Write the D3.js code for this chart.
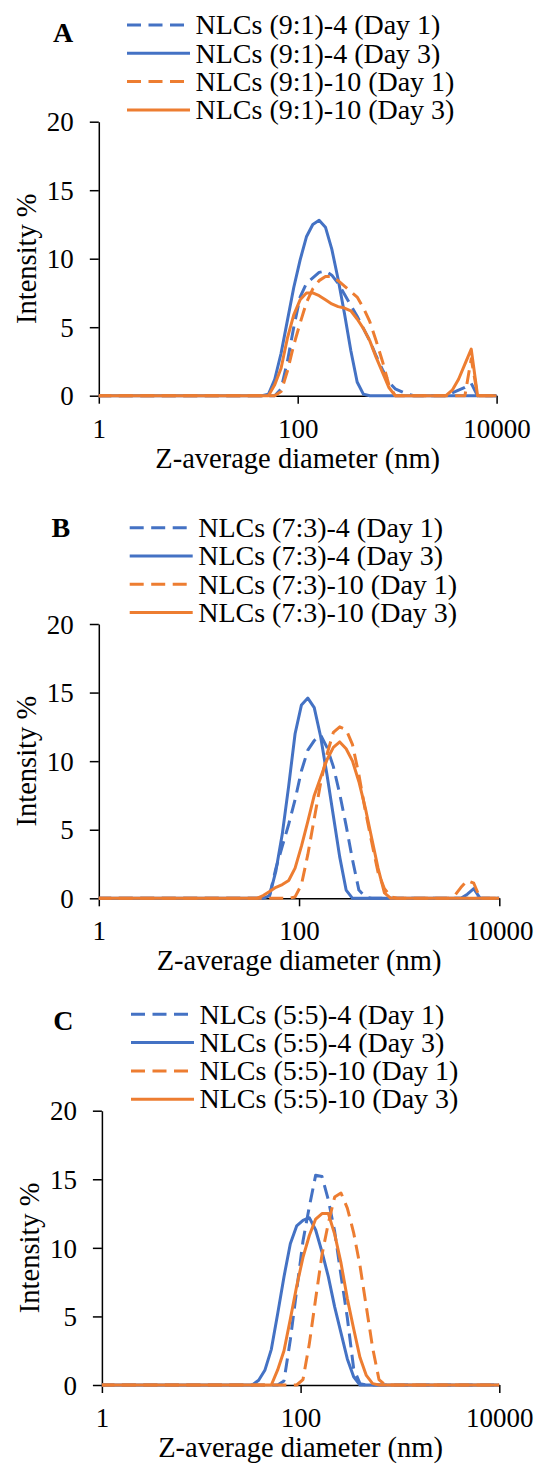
<!DOCTYPE html>
<html>
<head>
<meta charset="utf-8">
<script src="https://cdn.jsdelivr.net/npm/d3@7"></script>
<style>
    body { margin: 0; background: #fff; }
    svg text { font-family: "Liberation Serif", Tinos, "Times New Roman", serif; fill: #000; }
</style>
</head>
<body>
<div id="chart"></div>
<script>
/*
 * DLS size distributions of NLCs, panels A-C
 */

// Size bins (nm), Zetasizer standard classes from ~1 nm up to 10000 nm
const sizeBins = [
    0.9649, 1.117, 1.294, 1.499, 1.736, 2.010, 2.328, 2.696, 3.122, 3.615, 4.187, 4.849, 5.615, 6.503, 7.531, 8.721,
    10.10, 11.70, 13.54, 15.69, 18.17, 21.04, 24.36, 28.21, 32.67,
    37.84, 43.82, 50.75, 58.77, 68.06, 78.82, 91.28, 105.7, 122.4, 141.8, 164.2, 190.1, 220.2, 255.0, 295.3, 342.0,
    396.1, 458.7, 531.2, 615.1, 712.4, 825.0, 955.4, 1106, 1281,
    1484, 1718, 1990, 2305, 2669, 3091, 3580, 4145, 4801, 5560, 6439, 7456, 8635, 10000
];

const yTicks = [0, 5, 10, 15, 20];
const xTicks = [1, 100, 10000];
const panelLetters = ["A", "B", "C"];

const labelsA = ["NLCs (9:1)-4 (Day 1)", "NLCs (9:1)-4 (Day 3)", "NLCs (9:1)-10 (Day 1)", "NLCs (9:1)-10 (Day 3)"];
const labelsB = ["NLCs (7:3)-4 (Day 1)", "NLCs (7:3)-4 (Day 3)", "NLCs (7:3)-10 (Day 1)", "NLCs (7:3)-10 (Day 3)"];
const labelsC = ["NLCs (5:5)-4 (Day 1)", "NLCs (5:5)-4 (Day 3)", "NLCs (5:5)-10 (Day 1)", "NLCs (5:5)-10 (Day 3)"];

// intensity % per size bin
// panel A (9:1)
const a4d1 = [
    0, 0, 0, 0, 0, 0, 0, 0, 0, 0, 0, 0, 0, 0, 0, 0, 0, 0, 0, 0, 0, 0, 0, 0, 0,
    0, 0, 0, 0, 0.5, 2.5, 5.0, 7.2, 8.2, 8.6, 9.0, 9.1, 8.8, 8.2, 7.4, 6.6, 5.8, 4.9, 4.0, 2.9, 1.9, 1.0, 0.5, 0.3, 0.1,
    0, 0, 0, 0, 0, 0, 0.2, 0.4, 0.6, 0.9, 0, 0, 0, 0
];
const a4d3 = [
    0, 0, 0, 0, 0, 0, 0, 0, 0, 0, 0, 0, 0, 0, 0, 0, 0, 0, 0, 0, 0, 0, 0, 0, 0,
    0, 0, 0.1, 1.2, 3.1, 5.5, 7.9, 9.9, 11.6, 12.5, 12.8, 12.3, 10.7, 8.5, 6.0, 3.3, 1.0, 0.1, 0, 0, 0, 0, 0, 0, 0,
    0, 0, 0, 0, 0, 0, 0, 0, 0, 0, 0, 0, 0, 0
];
const a10d1 = [
    0, 0, 0, 0, 0, 0, 0, 0, 0, 0, 0, 0, 0, 0, 0, 0, 0, 0, 0, 0, 0, 0, 0, 0, 0,
    0, 0, 0, 0, 0.3, 1.8, 3.7, 5.3, 6.8, 7.8, 8.4, 8.7, 8.7, 8.4, 8.0, 7.6, 7.2, 6.4, 5.4, 4.0, 2.5, 0.8, 0, 0, 0,
    0, 0, 0, 0, 0, 0, 0, 0, 0, 2.7, 0, 0, 0, 0
];
const a10d3 = [
    0, 0, 0, 0, 0, 0, 0, 0, 0, 0, 0, 0, 0, 0, 0, 0, 0, 0, 0, 0, 0, 0, 0, 0, 0,
    0, 0, 0, 0.8, 2.0, 4.2, 5.9, 7.0, 7.5, 7.5, 7.3, 7.0, 6.7, 6.5, 6.4, 6.2, 5.6, 4.9, 4.0, 2.8, 1.7, 0.6, 0, 0, 0,
    0, 0, 0, 0, 0, 0, 0.4, 1.2, 2.3, 3.4, 0, 0, 0, 0
];

// panel B (7:3)
const b4d1 = [
    0, 0, 0, 0, 0, 0, 0, 0, 0, 0, 0, 0, 0, 0, 0, 0, 0, 0, 0, 0, 0, 0, 0, 0, 0,
    0, 0, 0.2, 2.2, 3.8, 5.4, 7.2, 9.3, 10.8, 11.5, 11.9, 11.0, 9.6, 7.6, 5.3, 2.8, 0.6, 0.1, 0, 0, 0, 0, 0, 0, 0,
    0, 0, 0, 0, 0, 0, 0, 0, 0, 0, 0, 0, 0, 0
];
const b4d3 = [
    0, 0, 0, 0, 0, 0, 0, 0, 0, 0, 0, 0, 0, 0, 0, 0, 0, 0, 0, 0, 0, 0, 0, 0, 0,
    0, 0, 0.2, 2.0, 4.7, 8.2, 12.0, 14.1, 14.6, 13.9, 11.8, 9.0, 6.0, 3.0, 0.6, 0, 0, 0, 0, 0, 0, 0, 0, 0, 0,
    0, 0, 0, 0, 0, 0, 0, 0, 0.3, 0.7, 0, 0, 0, 0
];
const b10d1 = [
    0, 0, 0, 0, 0, 0, 0, 0, 0, 0, 0, 0, 0, 0, 0, 0, 0, 0, 0, 0, 0, 0, 0, 0, 0,
    0, 0, 0, 0, 0, 0, 0.1, 1.0, 3.2, 5.8, 8.4, 10.5, 12.1, 12.5, 12.3, 11.2, 9.0, 6.4, 4.1, 1.9, 0.7, 0.1, 0, 0, 0,
    0, 0, 0, 0, 0, 0, 0.2, 0.8, 1.3, 1.1, 0, 0, 0, 0
];
const b10d3 = [
    0, 0, 0, 0, 0, 0, 0, 0, 0, 0, 0, 0, 0, 0, 0, 0, 0, 0, 0, 0, 0, 0, 0, 0, 0,
    0, 0.2, 0.5, 0.8, 1.0, 1.3, 2.2, 3.8, 5.6, 7.5, 8.8, 10.1, 11.0, 11.4, 10.9, 10.0, 8.5, 6.6, 4.4, 2.2, 0.4, 0, 0, 0, 0,
    0, 0, 0, 0, 0, 0, 0, 0, 0, 0, 0, 0, 0, 0
];

// panel C (5:5)
const c4d1 = [
    0, 0, 0, 0, 0, 0, 0, 0, 0, 0, 0, 0, 0, 0, 0, 0, 0, 0, 0, 0, 0, 0, 0, 0, 0,
    0, 0, 0, 0, 0.3, 3.3, 6.9, 10.5, 13.0, 15.3, 15.2, 13.5, 11.2, 8.0, 4.9, 1.2, 0.1, 0, 0, 0, 0, 0, 0, 0, 0,
    0, 0, 0, 0, 0, 0, 0, 0, 0, 0, 0, 0, 0, 0
];
const c4d3 = [
    0, 0, 0, 0, 0, 0, 0, 0, 0, 0, 0, 0, 0, 0, 0, 0, 0, 0, 0, 0, 0, 0, 0, 0, 0,
    0.35, 1.1, 2.6, 5.2, 7.9, 10.3, 11.6, 12.0, 12.2, 11.3, 9.7, 7.9, 5.7, 3.8, 1.9, 0.6, 0, 0, 0, 0, 0, 0, 0, 0, 0,
    0, 0, 0, 0, 0, 0, 0, 0, 0, 0, 0, 0, 0, 0
];
const c10d1 = [
    0, 0, 0, 0, 0, 0, 0, 0, 0, 0, 0, 0, 0, 0, 0, 0, 0, 0, 0, 0, 0, 0, 0, 0, 0,
    0, 0, 0, 0, 0, 0, 0, 0.4, 3.0, 6.3, 9.5, 11.8, 13.7, 14.0, 12.9, 11.1, 8.7, 5.7, 2.7, 0.4, 0, 0, 0, 0, 0,
    0, 0, 0, 0, 0, 0, 0, 0, 0, 0, 0, 0, 0, 0
];
const c10d3 = [
    0, 0, 0, 0, 0, 0, 0, 0, 0, 0, 0, 0, 0, 0, 0, 0, 0, 0, 0, 0, 0, 0, 0, 0, 0,
    0, 0, 0, 1.1, 2.5, 4.8, 7.2, 9.3, 10.9, 12.1, 12.5, 12.5, 11.0, 8.9, 6.3, 4.1, 2.0, 0.7, 0.1, 0, 0, 0, 0, 0, 0,
    0, 0, 0, 0, 0, 0, 0, 0, 0, 0, 0, 0, 0, 0
];


// styles: blue dashed, blue solid, orange dashed, orange solid
const seriesStyle = [
    {color: "#4472C4", dash: "14,7.5"},
    {color: "#4472C4", dash: null},
    {color: "#ED7D31", dash: "14,7.5"},
    {color: "#ED7D31", dash: null}
];

// where each panel sits on the page
const layout = [
    {left: 98.8, right: 496.6, top: 121.7, bottom: 395.7, legX: 127, legY: 25, letterX: 53, letterY: 31.7},
    {left: 98.8, right: 499.3, top: 624, bottom: 898.3, legX: 129.7, legY: 527.7, letterX: 51.5, letterY: 526.7},
    {left: 101.9, right: 499.3, top: 1110.7, bottom: 1385, legX: 131, legY: 1014.3, letterX: 53.2, letterY: 1020}
];

const panelLabels = [labelsA, labelsB, labelsC];
const panelSeries = [
    [a4d1, a4d3, a10d1, a10d3],
    [b4d1, b4d3, b10d1, b10d3],
    [c4d1, c4d3, c10d1, c10d3]
];

const serifFont = "'Liberation Serif', Tinos, 'Times New Roman', serif";

let svg = d3.select("#chart").append("svg")
    .attr("width", 538)
    .attr("height", 1468)
    .attr("font-family", serifFont);

panelLetters.forEach(function (letter, i) {
    drawPanel(i);
});


function drawPanel(i) {
    let p = layout[i];
    let g = svg.append("g").attr("class", "panel-" + i);

    let x = d3.scaleLog()
        .domain([1, 10000])
        .range([p.left, p.right]);

    let y = d3.scaleLinear()
        .domain([0, 20])
        .range([p.bottom, p.top]);

    // clip so the bin below 1 nm doesn't poke out of the plot
    svg.append("clipPath")
        .attr("id", "clip-" + i)
        .append("rect")
        .attr("x", p.left)
        .attr("y", p.top - 10)
        .attr("width", p.right - p.left)
        .attr("height", p.bottom - p.top + 20);

    // Axes
    let yAxis = d3.axisLeft(y)
        .tickValues(yTicks)
        .tickSize(9)
        .tickSizeOuter(0);

    let xAxis = d3.axisBottom(x)
        .tickValues(xTicks)
        .tickFormat(d3.format("d"))
        .tickSize(8)
        .tickSizeOuter(0);

    let yG = g.append("g")
        .attr("class", "y-axis axis")
        .attr("transform", `translate(${p.left},0)`)
        .call(yAxis)
        .attr("font-family", serifFont);

    let xG = g.append("g")
        .attr("class", "x-axis axis")
        .attr("transform", `translate(0,${p.bottom})`)
        .call(xAxis)
        .attr("font-family", serifFont);

    g.selectAll(".axis path, .axis line")
        .attr("stroke", "#000")
        .attr("stroke-width", 1.5);

    yG.selectAll("text")
        .attr("x", -25)
        .attr("dy", "0.34em")
        .style("font-size", "27px");

    xG.selectAll("text")
        .attr("y", 42)
        .attr("dy", 0)
        .style("font-size", "27px");

    // Axis titles
    g.append("text")
        .attr("transform", `translate(${p.left - 73},${(p.top + p.bottom) / 2}) rotate(-90)`)
        .attr("text-anchor", "middle")
        .attr("dy", "0.35em")
        .style("font-size", "28.5px")
        .text("Intensity %");

    g.append("text")
        .attr("x", (p.left + p.right) / 2)
        .attr("y", p.bottom + 72)
        .attr("text-anchor", "middle")
        .style("font-size", "28.5px")
        .text("Z-average diameter (nm)");

    // Lines
    let line = d3.line()
        .x((d, k) => x(sizeBins[k]))
        .y(d => y(d));

    let plot = g.append("g").attr("clip-path", `url(#clip-${i})`);

    plot.selectAll(".series")
        .data(panelSeries[i])
        .enter()
        .append("path")
        .attr("class", "series")
        .attr("d", d => line(d))
        .attr("fill", "none")
        .attr("stroke", (d, k) => seriesStyle[k].color)
        .attr("stroke-width", 3)
        .attr("stroke-linejoin", "round")
        .attr("stroke-dasharray", (d, k) => seriesStyle[k].dash);

    // Legend
    let legend = g.append("g").attr("class", "legend");

    panelLabels[i].forEach(function (label, k) {
        let ly = p.legY + k * 28.3;
        legend.append("line")
            .attr("x1", p.legX)
            .attr("x2", p.legX + 63)
            .attr("y1", ly)
            .attr("y2", ly)
            .attr("stroke", seriesStyle[k].color)
            .attr("stroke-width", 3)
            .attr("stroke-dasharray", seriesStyle[k].dash);

        legend.append("text")
            .attr("x", p.legX + 68.5)
            .attr("y", ly)
            .attr("dy", "0.33em")
            .style("font-size", "28px")
            .text(label);
    });

    // panel letter
    g.append("text")
        .attr("x", p.letterX)
        .attr("y", p.letterY)
        .attr("dy", "0.35em")
        .style("font-size", "28px")
        .style("font-weight", "bold")
        .text(panelLetters[i]);
}
</script>
</body>
</html>
